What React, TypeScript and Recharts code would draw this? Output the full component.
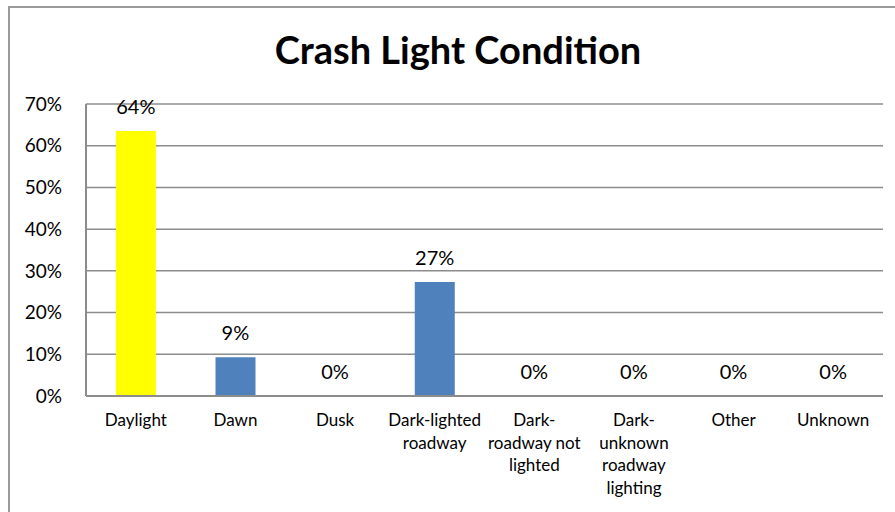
import { Bar, CartesianGrid, Cell, ComposedChart, LabelList, Line, XAxis, YAxis } from 'recharts'

const categories = [
  'Daylight',
  'Dawn',
  'Dusk',
  'Dark-lighted\nroadway',
  'Dark-\nroadway not\nlighted',
  'Dark-\nunknown\nroadway\nlighting',
  'Other',
  'Unknown',
]
const shares = [63.5, 9.3, 0, 27.3, 0, 0, 0, 0]
const barColors = ['#FFFF00', '#4F81BD', '#4F81BD', '#4F81BD', '#4F81BD', '#4F81BD', '#4F81BD', '#4F81BD']
const yTicks = [0, 10, 20, 30, 40, 50, 60, 70]

const data = categories.map((name, i) => ({ name, value: shares[i] }))

const FONT = 'Lato, "Open Sans", sans-serif'
const GRID = '#8c8c8c'

function CategoryTick({ x, y, payload }: any) {
  const lines = String(payload.value).split('\n')
  return (
    <text x={x} y={y} textAnchor="middle" fontFamily={FONT} fontSize={17} fill="#000">
      {lines.map((line, i) => (
        <tspan key={i} x={x} dy={i === 0 ? 22 : 22.7}>
          {line}
        </tspan>
      ))}
    </text>
  )
}

// labels hang off an invisible line so that zero values still get one
function ValueLabel({ x, y, value }: any) {
  return (
    <text x={x} y={y - 17} textAnchor="middle" fontFamily={FONT} fontSize={20} fill="#000">
      {Math.round(value)}%
    </text>
  )
}

export default function App() {
  return (
    <div style={{ position: 'absolute', left: 0, top: 0, width: 895, height: 512, overflow: 'hidden', background: '#fff' }}>
      <div
        style={{
          position: 'absolute',
          left: 8,
          top: 6,
          width: 900,
          height: 520,
          border: '2px solid #9a9a9a',
        }}
      />
      <div
        style={{
          position: 'absolute',
          left: 0,
          top: 26,
          width: 916,
          textAlign: 'center',
          fontFamily: FONT,
          fontWeight: 700,
          fontSize: 38,
          color: '#000',
        }}
      >
        Crash Light Condition
      </div>
      <div style={{ position: 'absolute', left: 0, top: 0 }}>
        <ComposedChart
          width={895}
          height={512}
          data={data}
          margin={{ top: 104, right: 12, left: 8, bottom: 0 }}
          barCategoryGap="30%"
        >
          <CartesianGrid horizontal vertical={false} stroke={GRID} strokeWidth={1.5} />
          <XAxis
            dataKey="name"
            height={116}
            interval={0}
            tick={<CategoryTick />}
            tickLine={false}
            axisLine={{ stroke: GRID, strokeWidth: 2 }}
          />
          <YAxis
            width={78}
            domain={[0, 70]}
            ticks={yTicks}
            tickFormatter={(v) => `${v}%`}
            tick={{ fontFamily: FONT, fontSize: 19, fill: '#000', dx: -16 }}
            tickLine={false}
            axisLine={{ stroke: GRID, strokeWidth: 2 }}
          />
          <Bar dataKey="value" isAnimationActive={false}>
            {data.map((d, i) => (
              <Cell key={d.name} fill={barColors[i]} />
            ))}
          </Bar>
          <Line dataKey="value" stroke="none" dot={false} activeDot={false} isAnimationActive={false}>
            <LabelList dataKey="value" content={<ValueLabel />} />
          </Line>
        </ComposedChart>
      </div>
    </div>
  )
}
